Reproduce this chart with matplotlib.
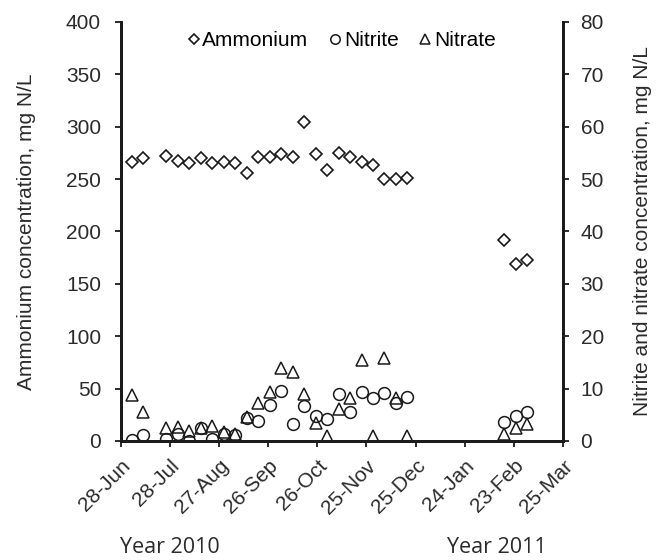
import pandas as pd
import matplotlib.pyplot as plt
import matplotlib.dates as mdates

plt.rcParams['font.family'] = ['Liberation Sans', 'DejaVu Sans']

# sampling dates (weekly, with a gap over the winter)
dates = ["2010-07-05", "2010-07-12", "2010-07-26", "2010-08-02", "2010-08-09",
         "2010-08-16", "2010-08-23", "2010-08-30", "2010-09-06", "2010-09-13",
         "2010-09-20", "2010-09-27", "2010-10-04", "2010-10-11", "2010-10-18",
         "2010-10-25", "2010-11-01", "2010-11-08", "2010-11-15", "2010-11-22",
         "2010-11-29", "2010-12-06", "2010-12-13", "2010-12-20",
         "2011-02-17", "2011-02-24", "2011-03-03"]

# concentrations, mg N/L
ammonium = [266, 270, 272, 267, 265, 270, 265, 266, 265, 256,
            271, 271, 274, 271, 304, 274, 259, 275, 271, 266,
            263, 250, 250, 251,
            192, 169, 173]
nitrite = [0.1, 1.1, 0.3, 1.3, 0.0, 2.5, 0.3, 1.4, 1.1, 4.3,
           3.8, 6.9, 9.6, 3.3, 6.7, 4.8, 4.2, 8.9, 5.6, 9.4,
           8.3, 9.2, 7.3, 8.4,
           3.7, 4.8, 5.6]
nitrate = [8.8, 5.6, 2.4, 2.7, 2.0, 2.5, 2.9, 1.8, 1.3, 4.6,
           7.3, 9.4, 13.9, 13.1, 8.9, 3.5, 1.0, 6.1, 8.3, 15.5,
           1.0, 15.8, 8.3, 1.0,
           1.3, 2.4, 3.2]

tick_dates = pd.date_range("2010-06-28", periods=10, freq="30D")

x = pd.to_datetime(dates)
col = "#1a1a1a"
txt = "#2b2b2b"

fig = plt.figure(figsize=(6.61, 5.6), dpi=100)
ax = fig.add_axes([0.1823, 0.2125, 0.6697, 0.7485])
ax2 = ax.twinx()

h1, = ax.plot(x, ammonium, ls="none", marker="D", ms=6, mfc="none", mec=col, mew=1.2, label="Ammonium")
h2, = ax2.plot(x, nitrite, ls="none", marker="o", ms=8.5, mfc="none", mec=col, mew=1.1, label="Nitrite")
h3, = ax2.plot(x, nitrate, ls="none", marker="^", ms=8.5, mfc="none", mec=col, mew=1.1, label="Nitrate")

ax.set_xlim(tick_dates[0], tick_dates[-1])
ax.set_ylim(0, 400)
ax2.set_ylim(0, 80)
ax.set_yticks(range(0, 401, 50))
ax2.set_yticks(range(0, 81, 10))
ax.set_xticks(tick_dates)
ax.xaxis.set_major_formatter(mdates.DateFormatter("%d-%b"))
plt.setp(ax.get_xticklabels(), rotation=45, ha="right", rotation_mode="anchor")

for a in (ax, ax2):
    a.spines["top"].set_visible(False)
    for s in a.spines.values():
        s.set_linewidth(2)
        s.set_color(col)
    a.tick_params(direction="out", length=4, width=1.3, color=col, labelsize=15, labelcolor=txt)
ax.tick_params(axis="y", pad=10)
ax2.tick_params(axis="y", pad=8.5)
ax.tick_params(axis="x", pad=7)

ax.set_ylabel("Ammonium concentration, mg N/L", fontsize=15, color=txt)
ax2.set_ylabel("Nitrite and nitrate concentration, mg N/L", fontsize=15, color=txt)
ax.yaxis.set_label_coords(-0.19, 0.5)
ax2.yaxis.set_label_coords(1.157, 0.5)

ax2.legend([h1, h2, h3], ["Ammonium", "Nitrite", "Nitrate"], loc="center",
           bbox_to_anchor=(0.5, 0.955), ncol=3, frameon=False, fontsize=15,
           markerscale=0.8, handlelength=0.55, handletextpad=0.15, columnspacing=1.0)

fig.text(0.257, 0.012, "Year 2010", fontsize=15.5, family=["Open Sans", "DejaVu Sans"],
         color=txt, ha="center", va="baseline")
fig.text(0.752, 0.012, "Year 2011", fontsize=15.5, family=["Open Sans", "DejaVu Sans"],
         color=txt, ha="center", va="baseline")

fig.savefig("out.png", dpi=100)
